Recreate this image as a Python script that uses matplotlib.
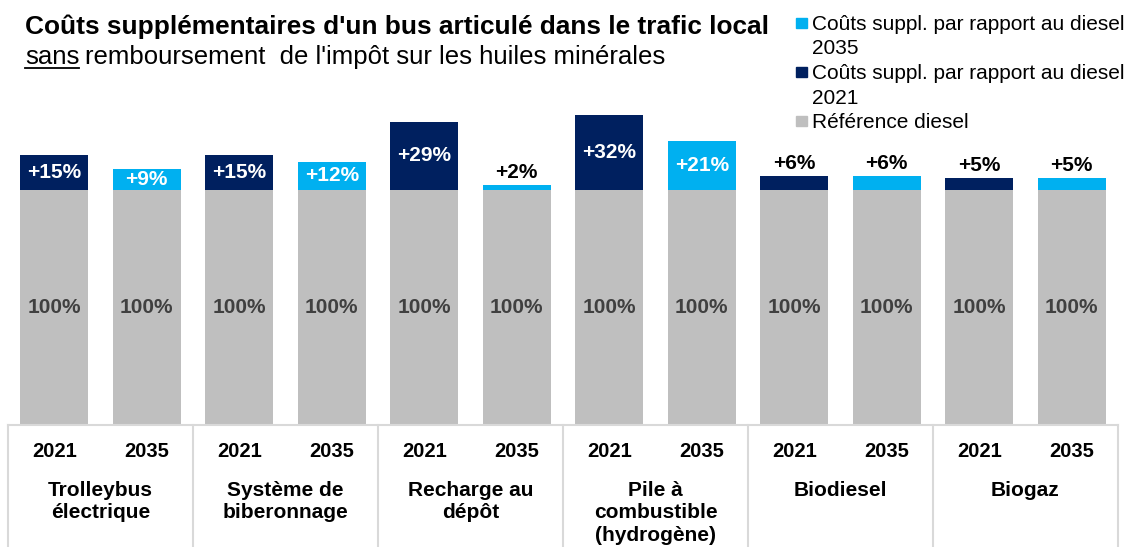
import matplotlib
matplotlib.use("Agg")
from matplotlib import pyplot as plt
from matplotlib.patches import Rectangle

plt.rcParams["font.family"] = ["Liberation Sans", "DejaVu Sans"]

# données
technologies = ["Trolleybus\nélectrique", "Système de\nbiberonnage", "Recharge au\ndépôt",
                "Pile à\ncombustible\n(hydrogène)", "Biodiesel", "Biogaz"]
years = ["2021", "2035"]
reference = [1.0] * 12
extra_2021 = [0.15, 0.15, 0.29, 0.32, 0.06, 0.05]
extra_2035 = [0.09, 0.12, 0.02, 0.21, 0.06, 0.05]
legend_labels = ["Coûts suppl. par rapport au diesel\n2035",
                 "Coûts suppl. par rapport au diesel\n2021",
                 "Référence diesel"]

NAVY = "#00205F"
LIGHT = "#00B0F0"
GREY = "#BFBFBF"
LINE = "#D9D9D9"

W, H = 1134, 547
fig = plt.figure(figsize=(W / 100, H / 100), dpi=100)

# axes: y=0 at pixel 425, 100% = 235 px
px_unit = 235.0
ax = fig.add_axes([8 / W, 0, 1110 / W, 1])
ax.set_xlim(-0.5, 11.5)
ax.set_ylim(-(H - 425) / px_unit, 425 / px_unit)
ax.axis("off")


def py(p):
    return (425 - p) / px_unit


xs = list(range(12))
extras = []
colors = []
for a, b in zip(extra_2021, extra_2035):
    extras += [a, b]
    colors += [NAVY, LIGHT]

bw = 0.735
ax.bar(xs, reference, width=bw, color=GREY, linewidth=0)
ax.bar(xs, extras, bottom=reference, width=bw, color=colors, linewidth=0)

for x, r, e in zip(xs, reference, extras):
    ax.text(x, r / 2, "100%", ha="center", va="center", fontsize=15,
            fontweight="bold", color="#404040")
    label = "+%d%%" % round(e * 100)
    if e >= 0.09:
        ax.text(x, r + e / 2, label, ha="center", va="center", fontsize=15,
                fontweight="bold", color="white")
    else:
        ax.text(x, r + e + 0.012, label, ha="center", va="bottom", fontsize=15,
                fontweight="bold", color="black")

# tableau de catégories
ax.plot([-0.5, 11.5], [0, 0], color=LINE, lw=1.5, clip_on=False)
for i in range(7):
    xb = -0.5 + 2 * i
    ax.plot([xb, xb], [0, py(H + 5)], color=LINE, lw=1.5, clip_on=False)
for x in xs:
    ax.text(x, py(451.5), years[x % 2], ha="center", va="center", fontsize=14.5,
            fontweight="bold")
for i, t in enumerate(technologies):
    ax.text(2 * i + 0.5, py(481), t, ha="center", va="top", fontsize=15,
            fontweight="bold", linespacing=1.22)

# titre
fig.text(25 / W, 1 - 34 / H, "Coûts supplémentaires d'un bus articulé dans le trafic local",
         fontsize=18.9, fontweight="bold", va="baseline", ha="left")
t_sans = fig.text(25 / W, 1 - 64 / H, "sans", fontsize=18.5, va="baseline", ha="left")
fig.canvas.draw()
bb = t_sans.get_window_extent()
fig.text(bb.x1 / W + 6 / W, 1 - 64 / H, "remboursement  de l'impôt sur les huiles minérales",
         fontsize=18.5, va="baseline", ha="left")
fig.add_artist(plt.Line2D([bb.x0 / W, bb.x1 / W], [1 - 68 / H, 1 - 68 / H],
                          color="black", lw=1.3))

# légende
baselines = [30, 54.5, 79, 103.5, 128]
k = 0
for lab, c in zip(legend_labels, [LIGHT, NAVY, GREY]):
    y0 = baselines[k]
    fig.add_artist(Rectangle((796 / W, 1 - (y0 - 2) / H), 11 / W, 10 / H,
                             color=c, transform=fig.transFigure))
    for line in lab.split("\n"):
        fig.text(812 / W, 1 - baselines[k] / H, line, fontsize=15, va="baseline", ha="left")
        k += 1

plt.savefig("out.png", dpi=100)
